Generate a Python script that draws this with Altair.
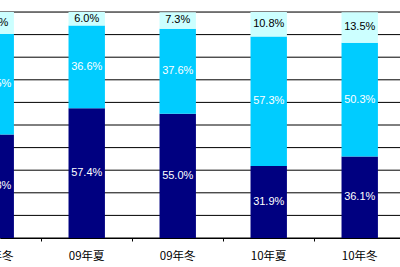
import altair as alt
import pandas as pd

categories = ["08年冬", "09年夏", "09年冬", "10年夏", "10年冬"]
series = ["下位", "中位", "上位"]
dark_vals = [45.8, 57.4, 55.0, 31.9, 36.1]
mid_vals = [44.5, 36.6, 37.6, 57.3, 50.3]
top_vals = [9.7, 6.0, 7.3, 10.8, 13.5]
grid_vals = [0, 10, 20, 30, 40, 50, 60, 70, 80, 90, 100]
colors = ["#000080", "#00CCFF", "#CCFFFF"]
text_colors = ["#FFFFFF", "#FFFFFF", "#000000"]

rows = []
for i, c in enumerate(categories):
    for k, (s, vals) in enumerate(zip(series, [dark_vals, mid_vals, top_vals])):
        rows.append({"cat": c, "idx": i, "series": s, "order": k, "value": vals[i]})
df = pd.DataFrame(rows)
cat_df = pd.DataFrame({"cat": categories, "idx": list(range(len(categories)))})
grid_df = pd.DataFrame({"g": grid_vals})

W, H = 400, 226
xdom = [0.047, 0.047 + W / 91.0]
xscale = alt.Scale(domain=xdom, nice=False, zero=False)
yscale = alt.Scale(domain=[0, 100], nice=False)

xaxis = alt.Axis(values=[0.5, 1.5, 2.5, 3.5, 4.5], labels=False, title=None,
                 grid=False, domainColor="#000000", tickColor="#000000",
                 tickSize=3, domainWidth=1)

grid = alt.Chart(grid_df).mark_rule(color="#000000", strokeWidth=1).encode(
    y=alt.Y("g:Q", scale=yscale, axis=None),
)

base = alt.Chart(df).transform_stack(
    stack="value", groupby=["idx"], sort=[alt.SortField("order")], as_=["y0", "y1"]
).transform_calculate(
    xl="datum.idx - 0.2", xr="datum.idx + 0.2", ym="(datum.y0 + datum.y1) / 2",
    label="format(datum.value, '.1f') + '%'"
)

bars = base.mark_bar(clip=True).encode(
    x=alt.X("xl:Q", scale=xscale, axis=xaxis),
    x2="xr:Q",
    y=alt.Y("y0:Q", scale=yscale, axis=None),
    y2="y1:Q",
    color=alt.Color("series:N", scale=alt.Scale(domain=series, range=colors), legend=None),
)

labels = base.mark_text(font="Liberation Sans", fontSize=11, clip=True).encode(
    x=alt.X("idx:Q", scale=xscale, axis=xaxis),
    y=alt.Y("ym:Q", scale=yscale, axis=None),
    text="label:N",
    color=alt.Color("series:N", scale=alt.Scale(domain=series, range=text_colors), legend=None),
)

cat_labels = alt.Chart(cat_df).mark_text(
    font="Noto Sans CJK JP", fontSize=11.5, color="#000000", baseline="middle"
).encode(
    x=alt.X("idx:Q", scale=xscale, axis=xaxis),
    y=alt.value(H + 19),
    text="cat:N",
)

chart = alt.layer(grid, bars, labels, cat_labels).resolve_scale(color="independent").properties(
    width=W, height=H,
    autosize=alt.AutoSizeParams(type="none"),
    padding={"left": 0, "right": 0, "top": 12, "bottom": 29},
).configure_view(stroke=None).configure(background="#FFFFFF")

chart.save("out.html", embed_options={"renderer": "svg", "actions": False})
